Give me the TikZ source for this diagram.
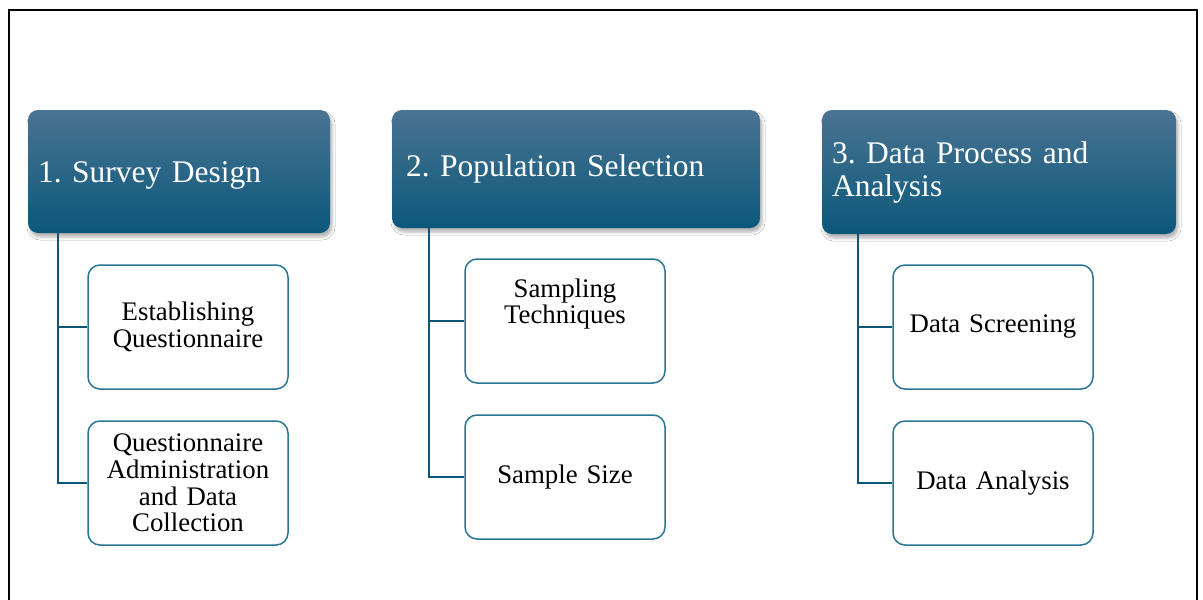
\documentclass[tikz,border=0pt]{standalone}
\usepackage{fontspec}
\setmainfont{Liberation Serif}
\usetikzlibrary{shadows,shadows.blur}
\definecolor{hdtop}{HTML}{4A7391}
\definecolor{hdmid}{HTML}{10628A}
\definecolor{hdbot}{HTML}{0B587B}
\definecolor{connc}{HTML}{0E5676}
\definecolor{childc}{HTML}{2A7595}
\tikzset{
  header/.style={rectangle, rounded corners=10pt, top color=hdtop, middle color=hdmid, bottom color=hdbot,
    text=white, font=\fontsize{31.5}{32.5}\selectfont\frenchspacing, align=left, inner xsep=10pt, inner ysep=0pt,
    blur shadow={shadow xshift=2pt, shadow yshift=-4pt, shadow blur radius=3pt, shadow opacity=30}},
  childbox/.style={rectangle, rounded corners=12pt, draw=childc, line width=1.5pt, fill=white,
    minimum width=200pt, minimum height=124pt, text width=190pt, align=center,
    font=\fontsize{26.8}{26.7}\selectfont\frenchspacing, inner sep=0pt},
  childtext/.style={align=center, font=\fontsize{26.8}{26.7}\selectfont\frenchspacing, inner sep=0pt},
  conn/.style={draw=connc, line width=2.6pt},
  frameline/.style={draw=black, line width=2.2pt}
}
\begin{document}
\begin{tikzpicture}[x=1pt,y=-1pt]
\useasboundingbox (0,0) rectangle (1203,600);
\fill[white] (0,0) rectangle (1203,600);
\draw[frameline] (9,605) -- (9,10) -- (1197,10) -- (1197,605);

% headers
\node[header, minimum width=302pt, minimum height=123pt, text width=282pt] (h1) at (179,171.5) {\raisebox{-3.5pt}[\height][\depth]{1. Survey Design}};
\node[header, minimum width=368pt, minimum height=118pt, text width=340pt, inner xsep=14pt] (h2) at (576,169) {2. Population Selection};
\node[header, minimum width=354pt, minimum height=124pt, text width=334pt] (h3) at (999,172) {3. Data Process and\\\raisebox{-1pt}[\height][\depth]{Analysis}};

% children
\node[childbox] (a1) at (188,327) {Establishing\\Questionnaire};
\node[childbox] (b1) at (188,483) {Questionnaire\\Administration\\and Data\\Collection};
\node[childbox] (a2) at (565,321) {};
\node[childtext] (a2t) at ([yshift=17pt]a2.center) {Sampling\\Techniques};
\node[childbox] (b2) at (565,477) {Sample Size};
\node[childbox] (a3) at (993,327) {Data Screening};
\node[childbox] (b3) at (993,483) {Data Analysis};

% connectors
\coordinate (t1) at ([xshift=30pt]h1.south west);
\coordinate (t2) at ([xshift=37pt]h2.south west);
\coordinate (t3) at ([xshift=36pt]h3.south west);
\draw[conn] (t1) |- (a1.west);
\draw[conn] (t1) |- (b1.west);
\draw[conn] (t2) |- (a2.west);
\draw[conn] (t2) |- (b2.west);
\draw[conn] (t3) |- (a3.west);
\draw[conn] (t3) |- (b3.west);
\end{tikzpicture}
\end{document}
